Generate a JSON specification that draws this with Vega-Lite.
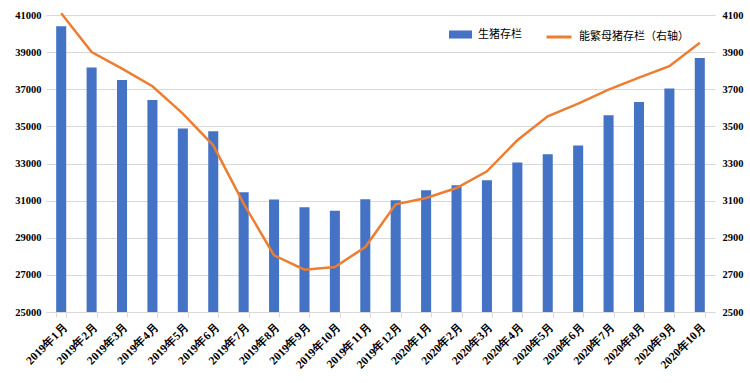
{
  "$schema": "https://vega.github.io/schema/vega-lite/v6.json",
  "width": 669,
  "height": 297,
  "autosize": "none",
  "padding": {"left": 46, "top": 15, "right": 35, "bottom": 71},
  "background": "white",
  "config": {"view": {"stroke": null}},
  "data": {"values": [
    {"m": "2019年1月", "hog": 40390, "sow": 4110},
    {"m": "2019年2月", "hog": 38170, "sow": 3900},
    {"m": "2019年3月", "hog": 37500, "sow": 3811},
    {"m": "2019年4月", "hog": 36420, "sow": 3716},
    {"m": "2019年5月", "hog": 34880, "sow": 3569},
    {"m": "2019年6月", "hog": 34740, "sow": 3398},
    {"m": "2019年7月", "hog": 31450, "sow": 3084},
    {"m": "2019年8月", "hog": 31060, "sow": 2805},
    {"m": "2019年9月", "hog": 30640, "sow": 2728},
    {"m": "2019年10月", "hog": 30460, "sow": 2742},
    {"m": "2019年11月", "hog": 31070, "sow": 2850},
    {"m": "2019年12月", "hog": 31020, "sow": 3080},
    {"m": "2020年1月", "hog": 31560, "sow": 3114},
    {"m": "2020年2月", "hog": 31830, "sow": 3168},
    {"m": "2020年3月", "hog": 32100, "sow": 3258},
    {"m": "2020年4月", "hog": 33050, "sow": 3425},
    {"m": "2020年5月", "hog": 33500, "sow": 3554},
    {"m": "2020年6月", "hog": 33970, "sow": 3623},
    {"m": "2020年7月", "hog": 35600, "sow": 3698},
    {"m": "2020年8月", "hog": 36310, "sow": 3763},
    {"m": "2020年9月", "hog": 37040, "sow": 3824},
    {"m": "2020年10月", "hog": 38690, "sow": 3951}
  ]},
  "encoding": {
    "x": {
      "field": "m", "type": "nominal", "sort": null,
      "scale": {"paddingInner": 0.67, "paddingOuter": 0.335},
      "axis": {
        "title": null, "labelAngle": -45, "labelFont": "Liberation Serif", "labelFontWeight": "bold",
        "labelFontSize": 11.5, "labelColor": "#000000", "domainColor": "#d9d9d9", "tickColor": "#d9d9d9",
        "tickBand": "extent", "tickSize": 5, "labelPadding": 4, "grid": false
      }
    }
  },
  "layer": [
    {
      "mark": {"type": "bar", "color": "#4472C4", "clip": true},
      "encoding": {
        "y": {
          "field": "hog", "type": "quantitative",
          "scale": {"domain": [25000, 41000], "nice": false, "zero": false},
          "axis": {
            "title": null, "values": [25000, 27000, 29000, 31000, 33000, 35000, 37000, 39000, 41000], "format": "d",
            "labelFont": "Liberation Serif", "labelFontWeight": "bold", "labelFontSize": 10.5, "labelColor": "#000000",
            "domain": false, "ticks": false, "labelPadding": 5, "grid": true, "gridColor": "#d9d9d9", "gridWidth": 1
          }
        },
        "fill": {
          "datum": "生猪存栏", "type": "nominal",
          "scale": {"range": ["#4472C4"]},
          "legend": {
            "title": null, "orient": "none", "legendX": 403, "legendY": 8,
            "symbolType": "M-1,-0.35L1,-0.35L1,0.35L-1,0.35Z", "symbolSize": 529, "symbolStrokeWidth": 0,
            "labelFont": "Noto Sans CJK SC", "labelFontSize": 11, "labelColor": "#000000", "labelOffset": 6
          }
        }
      }
    },
    {
      "mark": {"type": "line", "color": "#ED7D31", "strokeWidth": 2.5},
      "encoding": {
        "y": {
          "field": "sow", "type": "quantitative",
          "scale": {"domain": [2500, 4100], "nice": false, "zero": false},
          "axis": {
            "title": null, "orient": "right", "values": [2500, 2700, 2900, 3100, 3300, 3500, 3700, 3900, 4100], "format": "d",
            "labelFont": "Liberation Serif", "labelFontWeight": "bold", "labelFontSize": 10.5, "labelColor": "#000000",
            "domain": false, "ticks": false, "labelPadding": 7, "grid": false
          }
        },
        "stroke": {
          "datum": "能繁母猪存栏（右轴）", "type": "nominal",
          "scale": {"range": ["#ED7D31"]},
          "legend": {
            "title": null, "orient": "none", "legendX": 499, "legendY": 8,
            "symbolType": "stroke", "symbolSize": 625, "symbolStrokeWidth": 3,
            "labelFont": "Noto Sans CJK SC", "labelFontSize": 11, "labelColor": "#000000", "labelOffset": 6
          }
        }
      }
    }
  ],
  "resolve": {"scale": {"y": "independent"}}
}
